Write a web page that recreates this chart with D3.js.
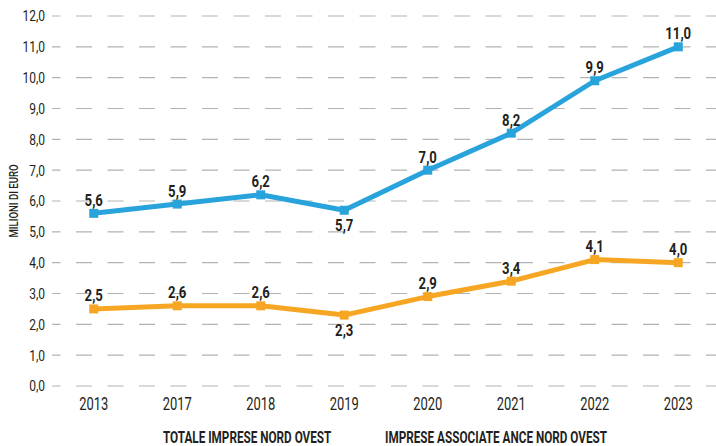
<!DOCTYPE html>
<html>
<head>
<meta charset="utf-8">
<script src="https://cdn.jsdelivr.net/npm/d3@7"></script>
<style>
  body { margin: 0; background: #fff; }
  svg text { font-family: Roboto, "Noto Sans", sans-serif; }
</style>
</head>
<body>
<svg id="chart" width="716" height="446"></svg>
<script>
var years = ['2013', '2017', '2018', '2019', '2020', '2021', '2022', '2023'];
var totale = [5.6, 5.9, 6.2, 5.7, 7.0, 8.2, 9.9, 11.0];
var associate = [2.5, 2.6, 2.6, 2.3, 2.9, 3.4, 4.1, 4.0];
var yTicks = [0, 1, 2, 3, 4, 5, 6, 7, 8, 9, 10, 11, 12];
var seriesNames = ['TOTALE IMPRESE NORD OVEST', 'IMPRESE ASSOCIATE ANCE NORD OVEST'];
// which labels sit under the point instead of above
var below = ['2019'];

var BLUE = '#29a3dc';
var ORANGE = '#f6a623';
var INK = '#231f20';

var svg = d3.select('#chart');
var fmt = function(v){ return d3.format('.1f')(v).replace('.', ','); };

// the original uses a condensed face, squeeze Roboto horizontally
function squeeze(sx, px, py){
  return function(d, i){
    return 'translate(' + px(d, i) + ',' + py(d, i) + ') scale(' + sx + ',1)';
  };
}

var x = d3.scalePoint()
  .domain(years)
  .range([52, 720])
  .padding(0.5);

var y = d3.scaleLinear()
  .domain([0, 12])
  .range([386, 16]);

// grid
svg.selectAll('.grid')
  .data(yTicks)
  .enter()
  .append('line')
  .attr('class', 'grid')
  .attr('x1', 52)
  .attr('x2', 716)
  .attr('y1', d => y(d))
  .attr('y2', d => y(d))
  .attr('stroke', '#b3b3b3')
  .attr('stroke-width', 1.2)
  .attr('stroke-dasharray', '16,15.5')
  .attr('stroke-dashoffset', 7.5);

// y tick labels
svg.selectAll('.ytick')
  .data(yTicks)
  .enter()
  .append('text')
  .attr('class', 'ytick')
  .attr('transform', squeeze(0.8, () => 45, d => y(d)))
  .attr('dy', '0.36em')
  .attr('text-anchor', 'end')
  .attr('fill', INK)
  .style('font-size', '15px')
  .text(d => fmt(d));

// x tick labels
svg.selectAll('.xtick')
  .data(years)
  .enter()
  .append('text')
  .attr('class', 'xtick')
  .attr('transform', squeeze(0.74, d => x(d), () => 409.5))
  .attr('text-anchor', 'middle')
  .attr('fill', INK)
  .style('font-size', '17.5px')
  .text(d => d);

// y axis title
svg.append('text')
  .attr('transform', 'translate(18,201) rotate(-90) scale(0.8,1)')
  .attr('text-anchor', 'middle')
  .attr('fill', INK)
  .style('font-size', '12px')
  .style('font-weight', 500)
  .text('MILIONI DI EURO');

function drawSeries(values, color){
  var pts = years.map(function(yr, i){ return {year: yr, v: values[i]}; });
  var line = d3.line()
    .x(d => x(d.year))
    .y(d => y(d.v));

  svg.append('path')
    .datum(pts)
    .attr('d', line)
    .attr('fill', 'none')
    .attr('stroke', color)
    .attr('stroke-width', 5)
    .attr('stroke-linejoin', 'round');

  svg.selectAll(null)
    .data(pts)
    .enter()
    .append('rect')
    .attr('x', d => x(d.year) - 4.5)
    .attr('y', d => y(d.v) - 4.5)
    .attr('width', 9)
    .attr('height', 9)
    .attr('fill', color);

  svg.selectAll(null)
    .data(pts)
    .enter()
    .append('text')
    .attr('transform', squeeze(0.82, d => x(d.year),
      d => below.includes(d.year) ? y(d.v) + 21 : y(d.v) - 7.5))
    .attr('text-anchor', 'middle')
    .attr('fill', INK)
    .style('font-size', '16px')
    .style('font-weight', 'bold')
    .text(d => fmt(d.v));
}

drawSeries(totale, BLUE);
drawSeries(associate, ORANGE);

// legend (text only)
var legX = [163, 385];
svg.selectAll('.leg')
  .data(seriesNames)
  .enter()
  .append('text')
  .attr('class', 'leg')
  .attr('transform', squeeze(0.69, (d, i) => legX[i], () => 442.5))
  .attr('fill', INK)
  .style('font-size', '17px')
  .style('font-weight', 'bold')
  .text(d => d);
</script>
</body>
</html>
